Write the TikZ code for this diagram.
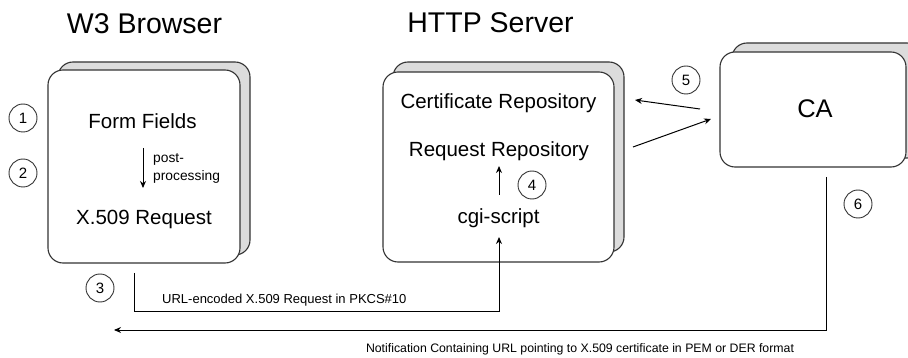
\documentclass[tikz,border=0pt]{standalone}
\usepackage{fontspec}
\setmainfont{Liberation Sans}
\usetikzlibrary{arrows.meta}
\definecolor{shadowgray}{HTML}{DCDCDC}
\definecolor{linegray}{HTML}{333333}
\tikzset{
  backbox/.style={draw=linegray, line width=1.1pt, fill=shadowgray, rounded corners=15pt},
  frontbox/.style={draw=linegray, line width=1.1pt, fill=white, rounded corners=15pt},
  title/.style={font=\fontsize{28.5}{30}\selectfont, anchor=base, inner sep=0pt},
  body/.style={font=\fontsize{20.5}{22}\selectfont, anchor=base, inner sep=0pt},
  small/.style={font=\fontsize{13}{15}\selectfont, anchor=base, inner sep=0pt},
  numc/.style={circle, draw=linegray, line width=0.9pt, minimum size=28pt, inner sep=0pt, font=\fontsize{15}{15}\selectfont},
  conn/.style={draw=black, line width=1pt},
  arr/.style={conn, -{Stealth[length=7pt,width=6pt]}},
}
\begin{document}
\begin{tikzpicture}[x=1pt, y=-1pt]
\useasboundingbox (0,0) rectangle (908,358);

% titles
\node[title] (tb) at (144.5,33.5) {W3 Browser};
\node[title] (ts) at (490.5,33) {HTTP Server};

% browser
\draw[backbox] (58,62) rectangle (250,255);
\draw[frontbox] (48,70) rectangle (240,263);
\node[body] (ff) at (142.5,129) {Form Fields};
\node[body] (xr) at (144,225) {X.509 Request};
\node[small, font=\fontsize{13.8}{15}\selectfont, anchor=base west] (pp) at (153,163) {post-};
\node[small, font=\fontsize{13.8}{15}\selectfont, anchor=base west] (pp2) at (153,181) {processing};
\coordinate (pa) at (143,148);
\coordinate (pb) at (143,188);
\draw[arr] (pa) -- (pb);

% server
\draw[backbox] (393,62) rectangle (624,252);
\draw[frontbox] (383,72) rectangle (614,262);
\node[body] (cr) at (498.5,109) {Certificate Repository};
\node[body] (rr) at (499,157) {Request Repository};
\node[body] (cg) at (498.5,224) {cgi-script};
\coordinate (ca1) at (499,195);
\coordinate (ca2) at (499,166);
\draw[arr] (ca1) -- (ca2);

% CA
\draw[backbox] (732,43) rectangle (922,158);
\draw[frontbox] (720,52) rectangle (906,167);
\node[title, font=\fontsize{25.5}{27}\selectfont] (ca) at (815,118) {CA};

% numbers
\node[numc] (n1) at (23,118) {1};
\node[numc] (n2) at (23,173) {2};
\node[numc] (n3) at (100,288) {3};
\node[numc] (n4) at (532,185) {4};
\node[numc] (n5) at (686,80) {5};
\node[numc] (n6) at (858,204) {6};

% arrows 5
\coordinate (a5s) at (700,109);
\coordinate (a5e) at (635,100);
\coordinate (b5s) at (633,147);
\coordinate (b5e) at (711,119);
\draw[arr] (a5s) -- (a5e);
\draw[arr] (b5s) -- (b5e);

% URL-encoded request
\coordinate (u1) at (134,273);
\coordinate (u2) at (499,237);
\draw[arr] (u1) |- (499,311) -- (u2);
\node[small, anchor=base west] (ul) at (162,304) {URL-encoded X.509 Request in PKCS\#10};

% notification
\coordinate (c1) at (826,177);
\coordinate (c2) at (114,330);
\draw[arr] (c1) |- (c2);
\node[small, font=\fontsize{12.3}{14}\selectfont] (nl) at (580,352.5) {Notification Containing URL pointing to X.509 certificate in PEM or DER format};
\end{tikzpicture}
\end{document}
